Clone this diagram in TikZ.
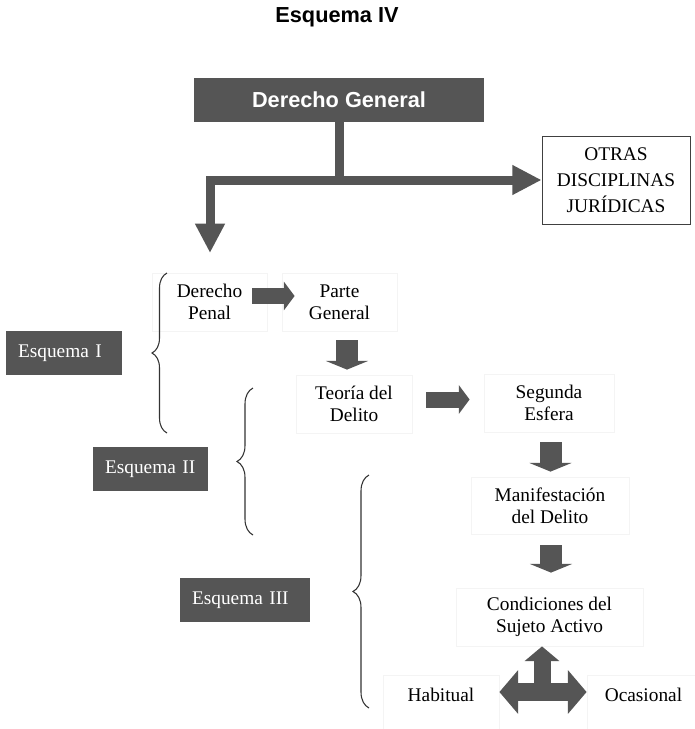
\documentclass[tikz,border=0pt]{standalone}
\usepackage{fontspec}
\setmainfont{Liberation Serif}
\newfontfamily\headfont{Liberation Sans}
\usetikzlibrary{arrows.meta,calc,decorations.pathreplacing}
\definecolor{boxgray}{HTML}{555555}
\definecolor{faintline}{HTML}{F4F4F4}
\tikzset{
  textfont/.style={font=\fontsize{14.5}{16.5}\selectfont},
  faintbox/.style={textfont,draw=faintline,line width=0.6pt,align=center,inner sep=0pt,minimum height=43.5pt},
  darkbox/.style={textfont,fill=boxgray,text=white,align=left,inner xsep=9pt,inner ysep=0pt,minimum height=33pt},
  headbox/.style={fill=boxgray,text=white,font=\headfont\bfseries\fontsize{16.3}{19}\selectfont,minimum width=217.5pt,minimum height=33pt},
  rarrow/.style={boxgray,line width=12pt,-{Triangle[width=21pt,length=8pt]}},
  darrow/.style={boxgray,line width=16.5pt,-{Triangle[width=31.5pt,length=6.5pt]}},
  trunk/.style={boxgray,line width=6.75pt},
  trunktip/.tip={Triangle[width=21pt,length=22pt]},
  bracket/.style={black!80,line width=0.8pt,decorate,decoration={brace,amplitude=#1}}
}
\begin{document}
\begin{tikzpicture}[x=0.75pt,y=-0.75pt]
\path[use as bounding box,fill=white] (0,0) rectangle (695,729);
% titulo
\node[font=\headfont\bfseries\fontsize{16.3}{19}\selectfont] (title) at (337,17) {Esquema IV};
\node[headbox] (general) at (339,100) {Derecho General};
\node[textfont,draw=black!75,line width=0.6pt,align=center,inner sep=0pt,minimum width=111pt,minimum height=66pt,font=\fontsize{14.5}{19.5}\selectfont] (otras) at (616,180) {OTRAS\\DISCIPLINAS\\JURÍDICAS};
% cajas
\node[faintbox,minimum width=86.25pt] (penal) at (209.5,302) {Derecho\\Penal};
\node[faintbox,minimum width=86.25pt] (parte) at (339.5,302) {Parte\\General};
\node[faintbox,minimum width=87pt] (teoria) at (354,404) {Teoría del\\Delito};
\node[faintbox,minimum width=97.5pt] (segunda) at (549,403) {Segunda\\Esfera};
\node[faintbox,minimum width=118.5pt,minimum height=42.75pt] (manif) at (550,505.5) {Manifestación\\del Delito};
\node[faintbox,minimum width=140.25pt] (cond) at (549.5,617) {Condiciones del\\Sujeto Activo};
\node[faintbox,minimum width=87pt,minimum height=0pt,inner ysep=9.75pt,text height=9.75pt,text depth=24pt,anchor=north] (hab) at (441,675) {Habitual};
\node[faintbox,minimum width=84.75pt,minimum height=0pt,inner ysep=9.75pt,text height=9.75pt,text depth=24pt,anchor=north] (ocas) at (643.5,675) {Ocasional};
% esquemas
\node[darkbox,text width=69pt] (esq1) at (64,353) {Esquema I};
\node[darkbox,text width=68.25pt] (esq2) at (150.5,469) {Esquema II};
\node[darkbox,text width=79.5pt] (esq3) at (245,600) {Esquema III};
% llaves
\draw[bracket=11.25pt] (167,433) -- (167,273);
\draw[bracket=12pt] (253,535) -- (253,388);
\draw[bracket=12pt] (369,708) -- (369,475);
% flechas
\coordinate (drop) at (210,253);
\draw[trunk] (general.south) -- (general.south |- otras.west);
\draw[trunk,trunktip-trunktip] (drop) |- (otras.west);
\draw[rarrow] ($(penal.east)+(-15,-6)$) -- ($(parte.west)+(13,-6)$);
\draw[darrow] ($(parte.south)+(7.5,9)$) -- ($(teoria.north)+(-7,-5)$);
\draw[rarrow] ($(teoria.east)+(14,-4.5)$) -- ($(segunda.west)+(-14,-3.5)$);
\draw[darrow] ($(segunda.south)+(1.5,10)$) -- ($(manif.north)+(0.5,-5)$);
\draw[darrow] ($(manif.south)+(1,11)$) -- ($(cond.north)+(1.5,-15)$);
\coordinate (hub) at (542,692);
\draw[boxgray,line width=12.75pt,-{Triangle[width=25.5pt,length=11pt]}] (hub) -- (hub |- cond.south);
\draw[boxgray,line width=14pt,{Triangle[width=32pt,length=14pt]}-{Triangle[width=32pt,length=14pt]}] (hab.east |- hub) -- (ocas.west |- hub);
\end{tikzpicture}
\end{document}
